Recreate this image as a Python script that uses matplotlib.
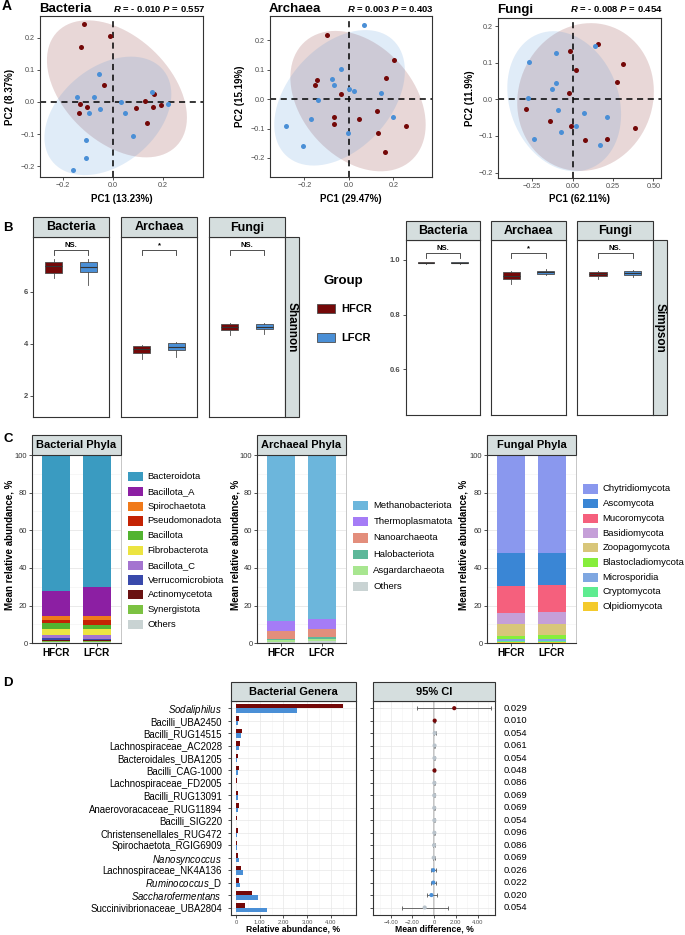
import numpy as np
import matplotlib
matplotlib.use('Agg')
import matplotlib.pyplot as plt
from matplotlib.patches import Polygon, Rectangle
import matplotlib.transforms as mtransforms

plt.rcParams['font.family'] = ['Liberation Sans', 'DejaVu Sans']
plt.rcParams['mathtext.fontset'] = 'custom'
plt.rcParams['mathtext.rm'] = 'Liberation Sans'
plt.rcParams['mathtext.it'] = 'Liberation Sans:italic'
plt.rcParams['mathtext.bf'] = 'Liberation Sans:bold'
plt.rcParams['mathtext.bfit'] = 'Liberation Sans:italic:bold'

# ---------------- DATA ----------------
groups = ['HFCR', 'LFCR']

# A: PCoA
pcoa_titles = ['Bacteria', 'Archaea', 'Fungi']
pcoa_R = ['- 0.010', '0.003', '- 0.008']
pcoa_P = ['0.557', '0.403', '0.454']
pc1_var = ['13.23%', '29.47%', '62.11%']
pc2_var = ['8.37%', '15.19%', '11.9%']

bac_hfcr_x = [-0.113, -0.009, -0.127, -0.036, 0.163, 0.129, 0.159, 0.191, 0.091, 0.135, -0.130, -0.102, -0.133]
bac_hfcr_y = [0.243, 0.205, 0.172, 0.052, 0.026, 0.002, -0.015, -0.010, -0.019, -0.066, -0.007, -0.016, -0.036]
bac_lfcr_x = [-0.054, -0.144, -0.074, -0.049, -0.094, 0.032, 0.049, 0.155, 0.221, 0.081, -0.107, -0.107, -0.160]
bac_lfcr_y = [0.086, 0.015, 0.014, -0.022, -0.035, 0.000, -0.034, 0.032, -0.006, -0.107, -0.119, -0.175, -0.213]

arc_hfcr_x = [-0.100, 0.205, 0.168, -0.145, -0.151, -0.033, 0.126, -0.066, 0.046, -0.066, 0.258, 0.133, 0.165]
arc_hfcr_y = [0.220, 0.132, 0.073, 0.066, 0.048, 0.016, -0.040, -0.062, -0.066, -0.086, -0.093, -0.116, -0.179]
arc_lfcr_x = [0.070, -0.033, -0.075, -0.066, 0.000, 0.025, 0.144, -0.138, -0.172, 0.198, -0.282, -0.003, -0.205]
arc_lfcr_y = [0.253, 0.102, 0.067, 0.048, 0.036, 0.028, 0.020, -0.002, -0.066, -0.062, -0.090, -0.115, -0.160]

fun_hfcr_x = [0.155, -0.015, 0.312, 0.019, 0.277, -0.019, -0.290, -0.141, -0.011, 0.389, 0.076, 0.213]
fun_hfcr_y = [0.151, 0.134, 0.097, 0.081, 0.049, 0.019, -0.027, -0.059, -0.072, -0.077, -0.110, -0.107]
fun_lfcr_x = [0.139, -0.102, -0.271, -0.102, -0.130, -0.278, -0.089, 0.072, 0.211, -0.073, 0.020, -0.242, 0.171]
fun_lfcr_y = [0.146, 0.126, 0.102, 0.045, 0.029, 0.003, -0.030, -0.038, -0.049, -0.089, -0.074, -0.109, -0.125]

# B: alpha diversity, [whisker low, Q1, median, Q3, whisker high]
kingdoms = ['Bacteria', 'Archaea', 'Fungi']
shannon_hfcr = [[6.54, 6.73, 6.98, 7.15, 7.25], [3.42, 3.63, 3.78, 3.91, 3.96], [4.32, 4.53, 4.65, 4.76, 4.81]]
shannon_lfcr = [[6.25, 6.75, 6.94, 7.15, 7.26], [3.50, 3.76, 3.88, 4.02, 4.08], [4.37, 4.57, 4.65, 4.76, 4.81]]
simpson_hfcr = [[0.985, 0.987, 0.990, 0.992, 0.994], [0.912, 0.931, 0.940, 0.955, 0.958], [0.929, 0.942, 0.950, 0.956, 0.960]]
simpson_lfcr = [[0.986, 0.988, 0.990, 0.992, 0.994], [0.945, 0.949, 0.955, 0.960, 0.965], [0.937, 0.944, 0.951, 0.958, 0.962]]
sig_labels = ['NS.', '*', 'NS.']
shannon_ticks = [2, 4, 6]
simpson_ticks = [0.6, 0.8, 1.0]

# C: phyla composition (%)
bac_phyla = ['Bacteroidota', 'Bacillota_A', 'Spirochaetota', 'Pseudomonadota', 'Bacillota', 'Fibrobacterota',
             'Bacillota_C', 'Verrucomicrobiota', 'Actinomycetota', 'Synergistota', 'Others']
bac_phyla_hfcr = [72.2, 13.3, 2.1, 1.8, 3.0, 3.2, 1.8, 0.6, 0.6, 0.5, 0.9]
bac_phyla_lfcr = [70.3, 15.0, 2.3, 2.7, 2.3, 3.2, 1.7, 0.6, 0.5, 0.5, 0.9]
bac_colors = ['#3A9BC1', '#8C1FA3', '#F07A1A', '#C42304', '#52B430', '#ECE441', '#A474D0', '#3949AB', '#6A1212', '#7CC242', '#C9D3D3']

arc_phyla = ['Methanobacteriota', 'Thermoplasmatota', 'Nanoarchaeota', 'Halobacteriota', 'Asgardarchaeota', 'Others']
arc_phyla_hfcr = [88.1, 5.2, 4.4, 0.7, 0.7, 0.9]
arc_phyla_lfcr = [87.3, 5.1, 4.2, 1.1, 1.1, 1.2]
arc_colors = ['#6CB6DC', '#A57CF6', '#E38E7C', '#5DB89A', '#A8E690', '#C9D3D3']

fun_phyla = ['Chytridiomycota', 'Ascomycota', 'Mucoromycota', 'Basidiomycota', 'Zoopagomycota',
             'Blastocladiomycota', 'Microsporidia', 'Cryptomycota', 'Olpidiomycota']
fun_phyla_hfcr = [51.9, 17.5, 14.3, 5.9, 6.3, 1.8, 0.9, 0.9, 0.5]
fun_phyla_lfcr = [51.8, 17.4, 14.4, 6.0, 6.1, 1.9, 1.0, 0.9, 0.5]
fun_colors = ['#8A98EE', '#3A86D5', '#F5607D', '#C59FD8', '#D8C67A', '#86EE3C', '#7FA7E1', '#5EEC90', '#F4CA2C']

phyla_titles = ['Bacterial Phyla', 'Archaeal Phyla', 'Fungal Phyla']

# D: differential genera (top to bottom)
genera = [r'$\mathit{Sodaliphilus}$', 'Bacilli_UBA2450', 'Bacilli_RUG14515', 'Lachnospiraceae_AC2028',
          'Bacteroidales_UBA1205', 'Bacilli_CAG-1000', 'Lachnospiraceae_FD2005', 'Bacilli_RUG13091',
          'Anaerovoracaceae_RUG11894', 'Bacilli_SIG220', 'Christensenellales_RUG472', 'Spirochaetota_RGIG6909',
          r'$\mathit{Nanosyncoccus}$', 'Lachnospiraceae_NK4A136', r'$\mathit{Ruminococcus}$_D',
          r'$\mathit{Saccharofermentans}$', 'Succinivibrionaceae_UBA2804']
genera_hfcr = [4.53, 0.11, 0.25, 0.18, 0.07, 0.11, 0.04, 0.08, 0.11, 0.03, 0.07, 0.03, 0.09, 0.22, 0.12, 0.67, 0.40]
genera_lfcr = [2.59, 0.07, 0.20, 0.14, 0.04, 0.08, 0.02, 0.07, 0.10, 0.01, 0.05, 0.04, 0.13, 0.30, 0.19, 0.93, 1.30]
mean_diff = [1.85, 0.05, 0.05, 0.04, 0.03, 0.03, 0.02, 0.01, 0.01, 0.02, 0.02, -0.01, -0.04, -0.08, -0.07, -0.25, -0.87]
ci_low = [-1.54, 0.01, -0.04, -0.03, -0.02, 0.00, -0.02, -0.03, -0.03, -0.02, -0.03, -0.07, -0.15, -0.30, -0.28, -0.68, -2.99]
ci_high = [5.23, 0.09, 0.14, 0.11, 0.08, 0.06, 0.06, 0.05, 0.05, 0.06, 0.07, 0.05, 0.07, 0.14, 0.14, 0.24, 1.32]
p_values = ['0.029', '0.010', '0.054', '0.061', '0.054', '0.048', '0.086', '0.069', '0.069', '0.054',
            '0.096', '0.086', '0.069', '0.026', '0.022', '0.020', '0.054']

# ---------------- STYLE / LAYOUT ----------------
HF = '#740808'
LF = '#4A8FD6'
STRIP = '#D5DEDE'
FRAME = '#333333'
W, H = 685, 935

fig = plt.figure(figsize=(W / 100, H / 100), dpi=100)


def px_axes(x0, y0, x1, y1, **kw):
    return fig.add_axes([x0 / W, 1 - y1 / H, (x1 - x0) / W, (y1 - y0) / H], **kw)


def ftext(x, y, s, **kw):
    return fig.text(x / W, 1 - y / H, s, **kw)


def frect(x0, y0, x1, y1, **kw):
    r = Rectangle((x0 / W, 1 - y1 / H), (x1 - x0) / W, (y1 - y0) / H, transform=fig.transFigure, **kw)
    fig.add_artist(r)


def strip(x0, y0, x1, y1, label, rotation=0, fontsize=8):
    frect(x0, y0, x1, y1, facecolor=STRIP, edgecolor=FRAME, linewidth=0.8, zorder=5)
    ftext((x0 + x1) / 2, (y0 + y1) / 2 + 0.5, label, ha='center', va='center', rotation=rotation,
          fontsize=fontsize, weight='bold', zorder=6)


def frame(ax, color=FRAME, lw=0.8):
    for s in ax.spines.values():
        s.set_color(color)
        s.set_linewidth(lw)


def stat_ellipse(x, y, level=0.90, segments=90):
    # normal-theory confidence ellipse from the sample covariance
    X = np.column_stack([x, y])
    loc = X.mean(axis=0)
    cov = np.cov(X.T)
    radius = np.sqrt(-2.0 * np.log(1.0 - level))
    t = np.linspace(0, 2 * np.pi, segments)
    circ = np.column_stack([np.cos(t), np.sin(t)])
    L = np.linalg.cholesky(cov).T
    return loc + radius * circ @ L


# ---------------- A ----------------
pcoa_data = [(bac_hfcr_x, bac_hfcr_y, bac_lfcr_x, bac_lfcr_y),
             (arc_hfcr_x, arc_hfcr_y, arc_lfcr_x, arc_lfcr_y),
             (fun_hfcr_x, fun_hfcr_y, fun_lfcr_x, fun_lfcr_y)]
pcoa_rects = [(40, 16, 203, 177), (270, 16, 432, 177), (498, 18, 661, 178)]
pcoa_xlim = [(-0.29, 0.36), (-0.354, 0.374), (-0.462, 0.548)]
pcoa_ylim = [(-0.234, 0.268), (-0.265, 0.283), (-0.215, 0.223)]
pcoa_xticks = [[-0.2, 0, 0.2], [-0.2, 0, 0.2], [-0.25, 0, 0.25, 0.5]]
pcoa_xfmt = ['{:.1f}', '{:.1f}', '{:.2f}']
pc2_x = [10, 240, 470]

for i in range(3):
    x0, y0, x1, y1 = pcoa_rects[i]
    ax = px_axes(x0, y0, x1, y1)
    hx, hy, lx, ly = pcoa_data[i]
    for xs, ys, col, al in [(hx, hy, HF, 0.16), (lx, ly, LF, 0.17)]:
        pts = stat_ellipse(xs, ys)
        ax.add_patch(Polygon(pts, closed=True, facecolor=col, alpha=al, edgecolor='none', zorder=1))
    ax.axhline(0, color='black', ls=(0, (4, 3)), lw=1.1, zorder=2)
    ax.axvline(0, color='black', ls=(0, (4, 3)), lw=1.1, zorder=2)
    ax.scatter(hx, hy, s=13, color=HF, linewidths=0, zorder=3)
    ax.scatter(lx, ly, s=13, color=LF, linewidths=0, zorder=3)
    ax.set_xlim(*pcoa_xlim[i])
    ax.set_ylim(*pcoa_ylim[i])
    ax.set_xticks(pcoa_xticks[i])
    ax.set_xticklabels([pcoa_xfmt[i].format(v).replace('-', '\u2212') for v in pcoa_xticks[i]])
    yt = [-0.2, -0.1, 0.0, 0.1, 0.2]
    ax.set_yticks(yt)
    ax.set_yticklabels(['{:.1f}'.format(v).replace('-', '\u2212') for v in yt])
    ax.tick_params(length=2.2, width=0.6, color=FRAME, labelsize=5.2, labelcolor='#4D4D4D', pad=1.5)
    frame(ax)
    ftext(x0 - 1, 12.5, pcoa_titles[i], ha='left', va='baseline', fontsize=9.5, weight='bold')
    ftext(x1 + 2, 12.5, r'$\mathbfit{R}$ = ' + pcoa_R[i] + r' $\mathbfit{P}$ = ' + pcoa_P[i],
          ha='right', va='baseline', fontsize=6.8, weight='bold')
    ftext((x0 + x1) / 2, 199, 'PC1 (' + pc1_var[i] + ')', ha='center', va='center', fontsize=7, weight='bold')
    ftext(pc2_x[i], (y0 + y1) / 2, 'PC2 (' + pc2_var[i] + ')', ha='center', va='center', rotation=90,
          fontsize=7, weight='bold')

ftext(2, 10, 'A', ha='left', va='baseline', fontsize=10, weight='bold')

# ---------------- B ----------------


def draw_box(ax, pos, vals, col):
    lo, q1, med, q3, hi = vals
    st = [dict(whislo=lo, q1=q1, med=med, q3=q3, whishi=hi, fliers=[])]
    ax.bxp(st, positions=[pos], widths=0.5, patch_artist=True, showfliers=False, showcaps=False,
           manage_ticks=False,
           boxprops=dict(facecolor=col, edgecolor='#4D4D4D', linewidth=0.6),
           medianprops=dict(color='#333333', linewidth=0.8),
           whiskerprops=dict(color='#4D4D4D', linewidth=0.6))


b_sets = [
    dict(hf=shannon_hfcr, lf=shannon_lfcr, ticks=shannon_ticks, fmt='{:d}', ylim=(1.18, 8.1),
         xs=[(33, 109), (121, 197), (209, 285)], st=217, top=237, bot=417, side='Shannon', side_w=14),
    dict(hf=simpson_hfcr, lf=simpson_lfcr, ticks=simpson_ticks, fmt='{:.1f}', ylim=(0.432, 1.073),
         xs=[(405.7, 480), (491, 566), (577.3, 653.3)], st=220.5, top=240, bot=415, side='Simpson', side_w=13.4),
]

for bs in b_sets:
    span = bs['ylim'][1] - bs['ylim'][0]
    top_val = max(max(v) for v in bs['hf'] + bs['lf'])
    yb = top_val + 0.047 * span
    for k in range(3):
        x0, x1 = bs['xs'][k]
        ax = px_axes(x0, bs['top'], x1, bs['bot'])
        draw_box(ax, 1, bs['hf'][k], HF)
        draw_box(ax, 2, bs['lf'][k], LF)
        ax.plot([1, 1, 2, 2], [yb - 0.026 * span, yb, yb, yb - 0.026 * span], color='#333333', lw=0.6)
        ax.text(1.5, yb + 0.008 * span, sig_labels[k], ha='center', va='bottom', fontsize=5.5, weight='bold')
        ax.set_xlim(0.4, 2.6)
        ax.set_ylim(*bs['ylim'])
        ax.set_xticks([])
        if k == 0:
            ax.set_yticks(bs['ticks'])
            ax.set_yticklabels([bs['fmt'].format(v) for v in bs['ticks']])
            ax.tick_params(axis='y', length=2.2, width=0.6, color=FRAME, labelsize=5.5,
                           labelcolor='#4D4D4D', pad=1.5)
            for lab in ax.get_yticklabels():
                lab.set_fontweight('bold')
        else:
            ax.set_yticks([])
        frame(ax)
        strip(x0, bs['st'], x1, bs['top'], kingdoms[k], fontsize=9)
    xr = bs['xs'][2][1]
    strip(xr, bs['top'], xr + bs['side_w'], bs['bot'], bs['side'], rotation=270, fontsize=8.5)

ftext(323, 281, 'Group', ha='left', va='center', fontsize=9.5, weight='bold')
for g, col, yc in [(groups[0], HF, 308.7), (groups[1], LF, 337.7)]:
    frect(316.7, yc - 4.5, 335, yc + 4.5, facecolor=col, edgecolor='#4D4D4D', linewidth=0.6)
    ftext(341.7, yc, g, ha='left', va='center', fontsize=8, weight='bold')

ftext(3, 231, 'B', ha='left', va='baseline', fontsize=9.5, weight='bold')

# ---------------- C ----------------
c_sets = [
    (bac_phyla, bac_phyla_hfcr, bac_phyla_lfcr, bac_colors, (32.3, 120.7), 10, 476.7, 14.76, (128.3, 147.7)),
    (arc_phyla, arc_phyla_hfcr, arc_phyla_lfcr, arc_colors, (257.3, 345.7), 235, 505.3, 16.3, (353.3, 373.3)),
    (fun_phyla, fun_phyla_hfcr, fun_phyla_lfcr, fun_colors, (487.3, 575.7), 464, 489.0, 14.7, (583.3, 602.7)),
]
for k, (names, hv, lv, cols, (x0, x1), ylab_x, leg_y0, leg_dy, (kx, tx)) in enumerate(c_sets):
    ax = px_axes(x0, 455, x1, 643.3)
    n = len(names)
    bottom = np.zeros(2)
    for j in range(n - 1, -1, -1):
        vals = np.array([hv[j], lv[j]])
        ax.bar([1, 2], vals, bottom=bottom, width=0.7, color=cols[j], edgecolor='none', zorder=2)
        bottom = bottom + vals
    ax.set_xlim(0.4, 2.6)
    ax.set_ylim(0, 100)
    ax.set_yticks([0, 20, 40, 60, 80, 100])
    ax.set_yticks([10, 30, 50, 70, 90], minor=True)
    ax.grid(axis='y', which='major', color='#E6E6E6', lw=0.6, zorder=0)
    ax.grid(axis='y', which='minor', color='#F2F2F2', lw=0.4, zorder=0)
    ax.set_xticks([1, 2])
    ax.set_xticklabels(groups, fontsize=7.2, weight='bold')
    ax.tick_params(axis='y', which='major', length=2, width=0.6, color=FRAME, labelsize=5.5,
                   labelcolor='#333333', pad=1.5)
    ax.tick_params(axis='y', which='minor', length=0)
    ax.tick_params(axis='x', length=2, width=0.6, color=FRAME, pad=1.5)
    for s in ['left', 'bottom']:
        ax.spines[s].set_color(FRAME)
        ax.spines[s].set_linewidth(0.8)
    ax.spines['right'].set_color('#BDBDBD')
    ax.spines['right'].set_linewidth(0.6)
    ax.spines['top'].set_visible(False)
    strip(x0, 435, x1, 455, phyla_titles[k], fontsize=8)
    ftext(ylab_x, 545, 'Mean relative abundance, %', ha='center', va='center', rotation=90,
          fontsize=7, weight='bold')
    for j, nm in enumerate(names):
        yc = leg_y0 + j * leg_dy
        frect(kx, yc - 4.65, kx + 14.4, yc + 4.65, facecolor=cols[j], edgecolor='none')
        ftext(tx, yc, nm, ha='left', va='center', fontsize=6.8)

ftext(3, 442, 'C', ha='left', va='baseline', fontsize=9.5, weight='bold')

# ---------------- D ----------------
ng = len(genera)
ypos = np.arange(ng, 0, -1)

axg = px_axes(230.7, 700.7, 356, 915)
axg.barh(ypos + 0.18, genera_hfcr, height=0.36, color=HF, zorder=2)
axg.barh(ypos - 0.18, genera_lfcr, height=0.36, color=LF, zorder=2)
axg.set_xlim(-0.22, 5.06)
axg.set_ylim(0.4, ng + 0.6)
axg.set_xticks([0, 1, 2, 3, 4])
axg.set_xticklabels(['0', '1.00', '2.00', '3.00', '4.00'])
axg.set_xticks([0.5, 1.5, 2.5, 3.5, 4.5], minor=True)
axg.set_yticks(ypos)
axg.set_yticklabels(genera)
axg.tick_params(axis='y', length=2.2, width=0.6, color=FRAME, labelsize=6.9, pad=4)
axg.tick_params(axis='x', which='major', length=2, width=0.6, color=FRAME, labelsize=4.2,
                labelcolor='#555555', pad=1.5)
axg.tick_params(axis='x', which='minor', length=0)
axg.grid(which='major', color='#E8E8E8', lw=0.5, zorder=0)
axg.grid(which='minor', axis='x', color='#F3F3F3', lw=0.4, zorder=0)
frame(axg)
strip(230.7, 681.7, 356, 700.7, 'Bacterial Genera', fontsize=8)
ftext(293.3, 929, 'Relative abundance, %', ha='center', va='center', fontsize=6.2, weight='bold')

axc = px_axes(373.3, 700.7, 495, 915)
axc.axvline(0, color='#B5B5B5', lw=1.1, zorder=1)
md = np.array(mean_diff)
lo = np.array(ci_low)
hi = np.array(ci_high)
axc.errorbar(md, ypos, xerr=[md - lo, hi - md], fmt='none', ecolor='#555555', elinewidth=0.6,
             capsize=1.6, capthick=0.6, zorder=2)
pt_cols = [(HF if d > 0 else LF) if float(p) < 0.05 else '#B9C3CB' for d, p in zip(mean_diff, p_values)]
axc.scatter(md, ypos, s=9, c=pt_cols, marker='o', linewidths=0, zorder=3)
axc.set_xlim(-5.6, 5.6)
axc.set_ylim(0.4, ng + 0.6)
axc.set_xticks([-4, -2, 0, 2, 4])
axc.set_xticklabels(['\u22124.00', '\u22122.00', '0', '2.00', '4.00'])
axc.set_xticks([-5, -3, -1, 1, 3, 5], minor=True)
axc.set_yticks(ypos)
axc.set_yticklabels([])
axc.tick_params(axis='y', length=2.2, width=0.6, color=FRAME)
axc.tick_params(axis='x', which='major', length=2, width=0.6, color=FRAME, labelsize=4.2,
                labelcolor='#555555', pad=1.5)
axc.tick_params(axis='x', which='minor', length=0)
axc.grid(which='major', color='#E8E8E8', lw=0.5, zorder=0)
axc.grid(which='minor', axis='x', color='#F3F3F3', lw=0.4, zorder=0)
frame(axc)
strip(373.3, 681.7, 495, 700.7, '95% CI', fontsize=8)
ftext(434, 929, 'Mean difference, %', ha='center', va='center', fontsize=6.2, weight='bold')

trans = mtransforms.blended_transform_factory(fig.transFigure, axc.transData)
for yv, p in zip(ypos, p_values):
    axc.text(503.3 / W, yv, p, transform=trans, ha='left', va='center', fontsize=6.8, clip_on=False)

ftext(3, 686, 'D', ha='left', va='baseline', fontsize=9.5, weight='bold')

fig.savefig('out.png', dpi=100)
